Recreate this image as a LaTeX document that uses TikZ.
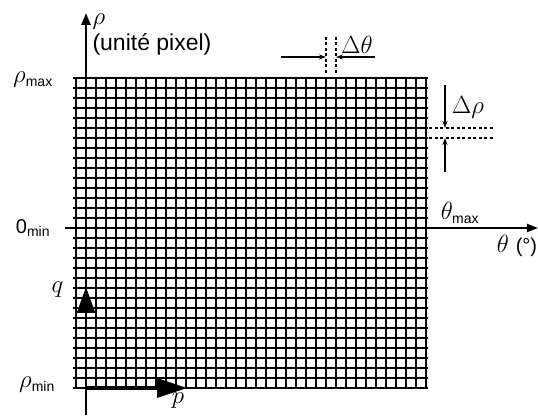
\documentclass[tikz,border=0pt]{standalone}
\usepackage{fontspec}
\setmainfont{Liberation Sans}
\usepackage{amsmath}
\usetikzlibrary{arrows.meta}
\newcommand\lbsub[1]{_{\text{\fontsize{14}{16}\selectfont #1}}}
\tikzset{mlabel/.style={font=\fontsize{24.88}{30}\selectfont}}

\begin{document}
\begin{tikzpicture}[x=10pt, y=10pt, line join=round, >={Stealth[length=7pt,width=5pt]}, font=\fontsize{20}{24}\selectfont]
	\useasboundingbox (-7.6,-2.7) rectangle (46.2,38.8);
	% grid of cells
	\foreach \i in {0,...,31} \draw[line width=1.6pt] (-0.3,\i) -- (35.15,\i);
	\foreach \j in {0,...,35} \draw[line width=1.6pt] (\j,0) -- (\j,31);
	% axes
	\draw[-{Triangle[length=12pt,width=9pt]}, line width=2.8pt] (1,-2.7) -- (1,37.5);
	\draw[-{Triangle[length=11pt,width=8pt]}, line width=2pt] (-1.1,16) -- (46.2,16);
	\draw[-{Triangle[length=26pt,width=18pt]}, line width=2.8pt] (1,0) -- (1,10.1);
	\draw[-{Triangle[length=30pt,width=19pt]}, line width=3.2pt] (1,0) -- (11.1,0);
	% step in theta
	\draw[dash pattern=on 3pt off 2.5pt, line width=1.1pt] (25,31.5) -- (25,35.1) (26,31.5) -- (26,35.1);
	\draw[->, line width=1.1pt] (20.5,33.1) -- (25,33.1);
	\draw[->, line width=1.1pt] (29.9,33.1) -- (26,33.1);
	% step in rho
	\draw[dash pattern=on 3pt off 2.5pt, line width=1.1pt] (35.3,26) -- (41.7,26) (35.3,25) -- (41.7,25);
	\draw[->, line width=1.1pt] (36.9,30.3) -- (36.9,26);
	\draw[->, line width=1.1pt] (36.9,21.6) -- (36.9,25);
	% labels
	\node[mlabel] (rho) at (2.3,36.6) {$\rho$};
	\node[anchor=west, font=\fontsize{23}{27}\selectfont] (unit) at (1.3,34.4) {(unité pixel)};
	\node[mlabel] (rmax) at (-4.3,30.8) {$\rho\lbsub{max}$};
	\node (zmin) at (-4.3,16) {0$\lbsub{min}$};
	\node[mlabel] (rmin) at (-3.9,0.3) {$\rho\lbsub{min}$};
	\node[mlabel] (tmax) at (38.4,17.5) {$\theta\lbsub{max}$};
	\node[mlabel] (tdeg) at (44.1,14.2) {$\theta$ {\fontsize{20}{24}\selectfont(°)}};
	\node[mlabel] (q) at (-1.85,9.8) {$q$};
	\node[mlabel] (p) at (10.2,-1.3) {$p$};
	\node[mlabel] (dt) at (28.1,34.3) {$\Delta\theta$};
	\node[mlabel] (dr) at (39.2,28.1) {$\Delta\rho$};
\end{tikzpicture}
\end{document}
